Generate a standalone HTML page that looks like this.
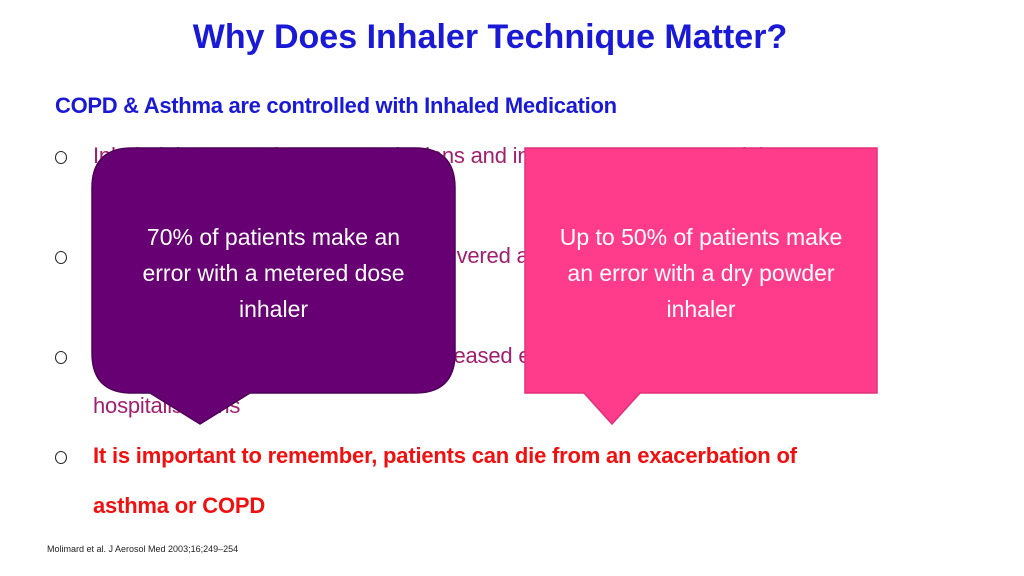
<!DOCTYPE html>
<html><head><meta charset="utf-8"><style>
html,body{margin:0;padding:0;background:#fff}
#s{position:relative;width:1024px;height:576px;overflow:hidden;font-family:"Liberation Sans",sans-serif}
.t{position:absolute;white-space:nowrap}
#title{left:0;width:980px;text-align:center;top:18px;font-size:34px;font-weight:bold;color:#1a1ad6}
#sub{left:55px;top:93px;font-size:22px;font-weight:bold;color:#1a1ad6;letter-spacing:-0.3px}
.b{left:55px;font-size:22px;color:#a0206e;letter-spacing:-0.2px}
.o{position:absolute;left:55px;width:10px;height:11px;border:1.5px solid #222;border-radius:50%}
.box{position:absolute;color:#fff;font-size:23px;text-align:center;line-height:36px}
</style></head><body>
<div id="s">
<div id="title" class="t">Why Does Inhaler Technique Matter?</div>
<div id="sub" class="t">COPD &amp; Asthma are controlled with Inhaled Medication</div>
<div class="o" style="top:151px"></div>
<div class="t b" style="left:93px;top:143px">Inhaled therapy reduces exacerbations and improves symptoms and the</div>
<div class="t b" style="left:93px;top:193px">quality of patients' everyday life</div>
<div class="o" style="top:251px"></div>
<div class="t b" style="left:93px;top:243px">If technique is poor the drug is not delivered and so will not</div>
<div class="t b" style="left:93px;top:293px">work effectively</div>
<div class="o" style="top:351px"></div>
<div class="t b" style="left:93px;top:343px">Poor technique is associated with increased exacerbations, GP visits &amp;</div>
<div class="t b" style="left:93px;top:393px">hospitalisations</div>
<div class="o" style="top:451px"></div>
<div class="t b" style="left:93px;top:443px;color:#f01010;font-weight:bold">It is important to remember, patients can die from an exacerbation of</div>
<div class="t b" style="left:93px;top:493px;color:#f01010;font-weight:bold">asthma or COPD</div>
<div class="t" style="left:47px;top:544px;font-size:9px;color:#222">Molimard et al. J Aerosol Med 2003;16;249–254</div>
<svg style="position:absolute;left:0;top:0" width="1024" height="576">
<path d="M132 148 H415 Q455 148 455 188 V353 Q455 393 415 393 H250 L200 424 L150 393 H132 Q92 393 92 353 V188 Q92 148 132 148 Z" fill="#660073" stroke="#4e0058" stroke-width="1.5"/>
<path d="M525 148 H877 V393 H640 L612 424 L584 393 H525 Z" fill="#ff3c8c" stroke="#e0307a" stroke-width="1.5"/>
</svg>
<div class="box" style="left:92px;top:219px;width:363px">70% of patients make an<br>error with a metered dose<br>inhaler</div>
<div class="box" style="left:525px;top:219px;width:352px">Up to 50% of patients make<br>an error with a dry powder<br>inhaler</div>
</div>
</body></html>
